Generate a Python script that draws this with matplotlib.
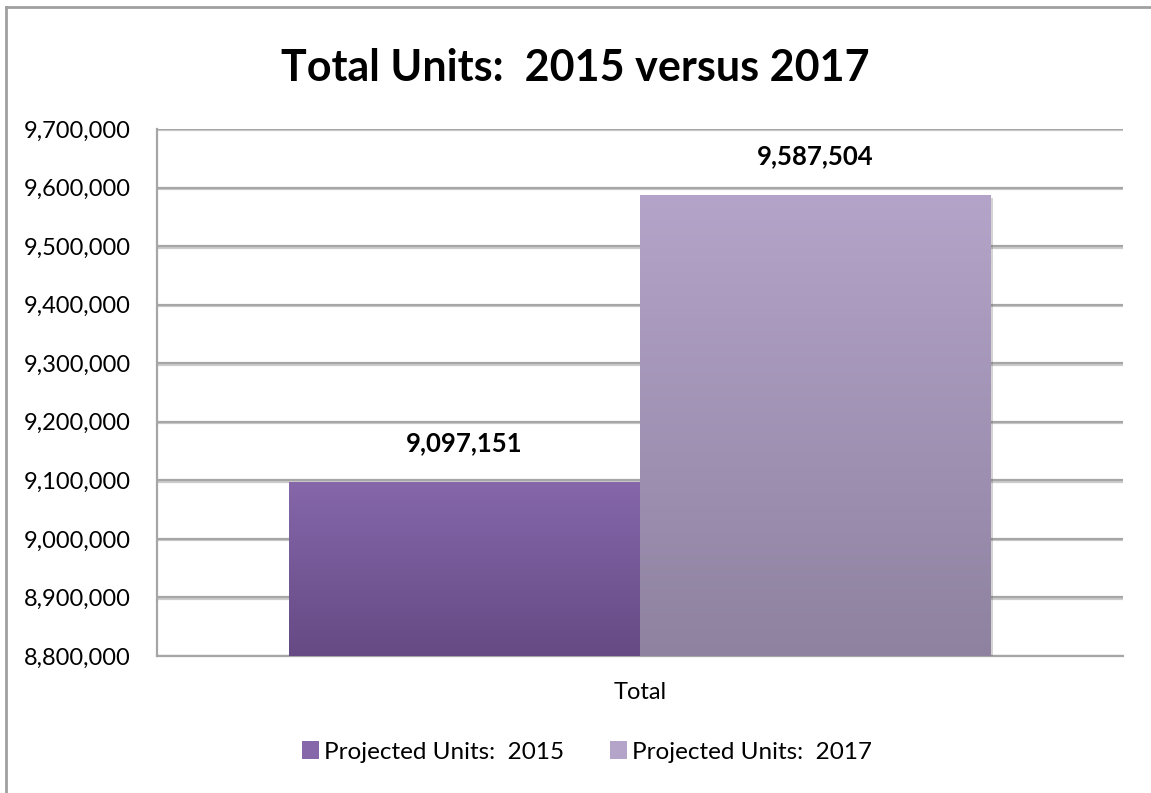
import matplotlib.pyplot as plt
import numpy as np
from matplotlib.lines import Line2D
from matplotlib.patches import Patch
import matplotlib.patheffects as pe
from matplotlib.colors import LinearSegmentedColormap
from matplotlib.ticker import FuncFormatter

plt.rcParams['font.family'] = ['Lato', 'DejaVu Sans']

series = ['Projected Units:  2015', 'Projected Units:  2017']
values = [9097151, 9587504]
category = 'Total'
# top / bottom colours of each bar's gradient
tops = ['#8567aa', '#b4a4c9']
bottoms = ['#654a84', '#8e82a0']

fig = plt.figure(figsize=(11.51, 7.93), dpi=100)
ax = fig.add_axes([157/1151, 1-656/793, (1123-157)/1151, (656-129)/793])

width = 0.363
offsets = [-width/2, width/2]
ymin, ymax = 8800000, 9700000

for i in range(len(values)):
    bar = ax.bar(offsets[i], values[i] - ymin, width, bottom=ymin,
                 color=bottoms[i], zorder=3,
                 path_effects=[pe.SimplePatchShadow(offset=(2, -2), alpha=0.25, shadow_rgbFace='#555555'),
                               pe.Normal()])[0]
    cmap = LinearSegmentedColormap.from_list('g%d' % i, [bottoms[i], tops[i]])
    grad = np.linspace(0, 1, 256).reshape(-1, 1)
    x0 = offsets[i] - width/2
    im = ax.imshow(grad, cmap=cmap, aspect='auto', origin='lower',
                   extent=[x0, x0 + width, ymin, values[i]], zorder=4)
    im.set_clip_path(bar)
    ax.annotate(f'{values[i]:,}', (offsets[i], values[i]), xytext=(0, 19),
                textcoords='offset points', ha='center', va='bottom',
                fontsize=18.5, fontweight='bold', zorder=5)

ax.set_xlim(-0.5, 0.5)
ax.set_ylim(ymin, ymax)
ax.set_yticks(np.arange(ymin, ymax + 1, 100000))
ax.yaxis.set_major_formatter(FuncFormatter(lambda v, p: f'{int(v):,}'))
ax.set_xticks([0])
ax.set_xticklabels([category])

ax.grid(axis='y', color='#a6a6a6', linewidth=1.6, zorder=1,
        path_effects=[pe.SimpleLineShadow(offset=(0, -1), alpha=0.2), pe.Normal()])
ax.tick_params(axis='y', length=0, pad=19, labelsize=17, colors='#000000')
ax.tick_params(axis='x', length=0, pad=19, labelsize=17)
for s in ['top', 'right']:
    ax.spines[s].set_visible(False)
for s in ['left', 'bottom']:
    ax.spines[s].set_color('#a6a6a6')
    ax.spines[s].set_linewidth(1.6)

fig.text(575/1151, 1-68/793, 'Total Units:  2015 versus 2017', ha='center', va='center',
         fontsize=31, fontweight='bold')

# outer chart frame (top and left edges)
fig.add_artist(Line2D([6/1151, 6/1151], [0, 1-7/793], transform=fig.transFigure,
                      color='#a0a0a0', linewidth=2))
fig.add_artist(Line2D([6/1151, 1], [1-7/793, 1-7/793], transform=fig.transFigure,
                      color='#a0a0a0', linewidth=2))

handles = [Patch(facecolor=tops[0]), Patch(facecolor=tops[1])]
fig.legend(handles, series, loc='center', bbox_to_anchor=(587/1151, 1-752/793), ncol=2,
           frameon=False, fontsize=17.5, handlelength=0.7, handleheight=0.7,
           handletextpad=0.2, columnspacing=1.9)

fig.savefig('out.png', dpi=100)
